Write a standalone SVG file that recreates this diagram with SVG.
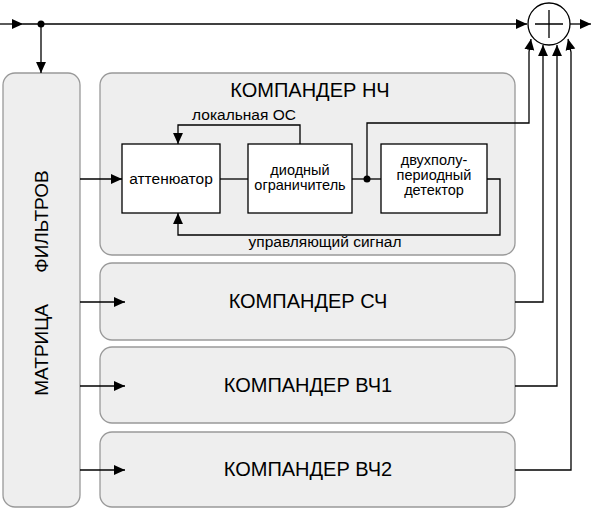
<svg xmlns="http://www.w3.org/2000/svg" width="600" height="512" viewBox="0 0 600 512">
<defs>
<marker id="arr" viewBox="0 0 10 10" refX="10" refY="5" markerWidth="11" markerHeight="11" markerUnits="userSpaceOnUse" orient="auto">
<path d="M0,0.5 L10,5 L0,9.5 z" fill="#000"/>
</marker>
<style>
.grp{fill:#eeeeee;stroke:#999999;stroke-width:1.3}
.blk{fill:#ffffff;stroke:#000;stroke-width:1.3}
.ln{fill:none;stroke:#000;stroke-width:1.3}
.big{font-family:"Liberation Sans",Arial,sans-serif;font-size:20px;fill:#000}
.vt{font-family:"Liberation Sans",Arial,sans-serif;font-size:19px;fill:#000}
.sm{font-family:"Liberation Sans",Arial,sans-serif;font-size:15.5px;fill:#000}
.in{font-family:"Liberation Sans",Arial,sans-serif;font-size:14.5px;fill:#000}
</style>
</defs>
<rect width="600" height="512" fill="#fff"/>
<g id="filters">
<rect class="grp" x="3" y="73" width="77" height="434" rx="12"/>
<text class="vt" transform="translate(48,283) rotate(-90)" text-anchor="middle" word-spacing="26">МАТРИЦА ФИЛЬТРОВ</text>
</g>
<g id="komp-nch">
<rect class="grp" x="100" y="73" width="415" height="182" rx="12"/>
<text class="big" x="310" y="97" text-anchor="middle">КОМПАНДЕР НЧ</text>
</g>
<g id="komp-sch">
<rect class="grp" x="100" y="263" width="415" height="77" rx="12"/>
<text class="big" x="308" y="308" text-anchor="middle">КОМПАНДЕР СЧ</text>
</g>
<g id="komp-vch1">
<rect class="grp" x="100" y="347" width="415" height="76" rx="12"/>
<text class="big" x="308" y="392" text-anchor="middle">КОМПАНДЕР ВЧ1</text>
</g>
<g id="komp-vch2">
<rect class="grp" x="100" y="432" width="415" height="75" rx="12"/>
<text class="big" x="308" y="476" text-anchor="middle">КОМПАНДЕР ВЧ2</text>
</g>
<g id="attenuator">
<rect class="blk" x="122" y="144" width="98" height="69"/>
<text class="sm" x="171" y="184" text-anchor="middle">аттенюатор</text>
</g>
<g id="limiter">
<rect class="blk" x="248" y="144" width="104" height="69"/>
<text class="in" x="300" y="175" text-anchor="middle">диодный</text>
<text class="in" x="300" y="190" text-anchor="middle">ограничитель</text>
</g>
<g id="detector">
<rect class="blk" x="381" y="144" width="106" height="69"/>
<text class="in" x="434" y="165" text-anchor="middle">двухполу-</text>
<text class="in" x="434" y="180" text-anchor="middle">периодный</text>
<text class="in" x="434" y="195" text-anchor="middle">детектор</text>
</g>
<g id="summer">
<circle cx="549" cy="24" r="21" fill="#fff" stroke="#000" stroke-width="1.3"/>
<path class="ln" d="M549,10 V38 M535,24 H563"/>
</g>
<g id="connectors">
<path class="ln" d="M0,24 H23" marker-end="url(#arr)"/>
<path class="ln" d="M23,24 H527" marker-end="url(#arr)"/>
<path class="ln" d="M570,24 H591" marker-end="url(#arr)"/>
<circle cx="41" cy="24" r="3.5" fill="#000"/>
<path class="ln" d="M41,24 V73" marker-end="url(#arr)"/>
<path class="ln" d="M80,179 H122" marker-end="url(#arr)"/>
<path class="ln" d="M80,302 H125" marker-end="url(#arr)"/>
<path class="ln" d="M80,386 H125" marker-end="url(#arr)"/>
<path class="ln" d="M80,470 H125" marker-end="url(#arr)"/>
<path class="ln" d="M220,179 H248"/>
<path class="ln" d="M352,179 H381"/>
<circle cx="367" cy="179" r="3.5" fill="#000"/>
<path class="ln" d="M367,179 V123 H529 V52 L531,39" marker-end="url(#arr)"/>
<path class="ln" d="M300,144 V125 H178 V144" marker-end="url(#arr)"/>
<text class="sm" x="244" y="120" text-anchor="middle">локальная ОС</text>
<path class="ln" d="M487,179 H500 V235 H178 V213" marker-end="url(#arr)"/>
<text class="sm" x="325" y="247" text-anchor="middle">управляющий сигнал</text>
<path class="ln" d="M515,302 H543 V45" marker-end="url(#arr)"/>
<path class="ln" d="M515,386 H557 V45" marker-end="url(#arr)"/>
<path class="ln" d="M515,470 H571 V52 L568,39" marker-end="url(#arr)"/>
</g>
</svg>
